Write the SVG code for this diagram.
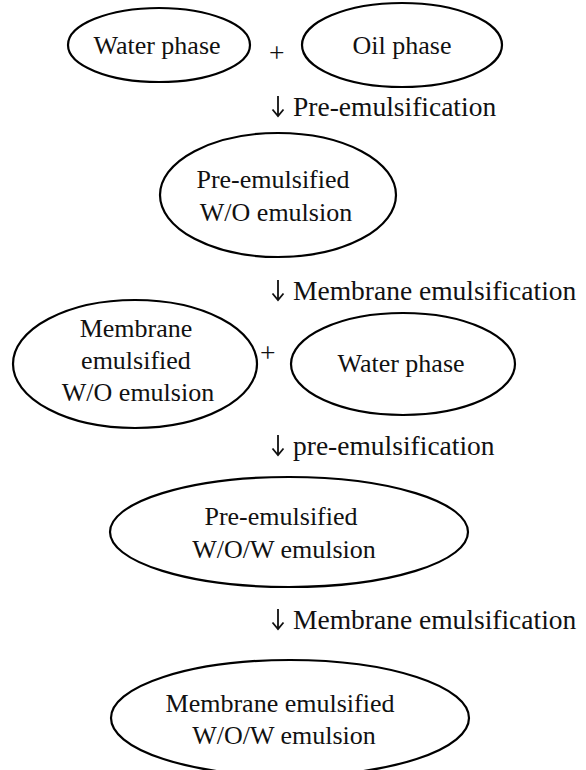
<svg xmlns="http://www.w3.org/2000/svg" width="586" height="770" viewBox="0 0 586 770">
<style>
.n{fill:none;stroke:#000;stroke-width:2.2}
.t{font-family:"Liberation Serif","Times New Roman",serif;font-size:26px;fill:#111;text-anchor:middle}
.l{font-family:"Liberation Serif","Times New Roman",serif;font-size:27.5px;fill:#111}
.a{fill:none;stroke:#111;stroke-width:1.8}
</style>
<rect width="586" height="770" fill="#fff"/>
<g id="water1"><ellipse class="n" cx="159" cy="45" rx="91" ry="37"/><text class="t" x="157" y="54">Water phase</text></g>
<g id="oil"><ellipse class="n" cx="402" cy="45" rx="100" ry="42"/><text class="t" x="402" y="54">Oil phase</text></g>
<g id="preWO"><ellipse class="n" cx="278" cy="195" rx="118" ry="62"/><text class="t" x="273" y="188">Pre-emulsified</text><text class="t" x="276" y="221">W/O emulsion</text></g>
<g id="memWO"><ellipse class="n" cx="135" cy="364" rx="122" ry="64"/><text class="t" x="136" y="337">Membrane</text><text class="t" x="136" y="369">emulsified</text><text class="t" x="138" y="401">W/O emulsion</text></g>
<g id="water2"><ellipse class="n" cx="403" cy="364" rx="112" ry="51"/><text class="t" x="401" y="372">Water phase</text></g>
<g id="preWOW"><ellipse class="n" cx="289" cy="532" rx="179" ry="55"/><text class="t" x="281" y="525">Pre-emulsified</text><text class="t" x="284" y="558">W/O/W emulsion</text></g>
<g id="memWOW"><ellipse class="n" cx="290" cy="718" rx="179" ry="58"/><text class="t" x="280" y="712">Membrane emulsified</text><text class="t" x="284" y="744">W/O/W emulsion</text></g>
<g id="connectors">
<text class="l" x="269" y="62">+</text>
<text class="l" x="260" y="362">+</text>
<path class="a" d="M278 96V116M272.5 109.5L278 116L283.5 109.5"/>
<text class="l" x="293" y="116">Pre-emulsification</text>
<path class="a" d="M278 280V300M272.5 293.5L278 300L283.5 293.5"/>
<text class="l" x="293" y="300">Membrane emulsification</text>
<path class="a" d="M278 435V455M272.5 448.5L278 455L283.5 448.5"/>
<text class="l" x="293" y="455">pre-emulsification</text>
<path class="a" d="M278 609V629M272.5 622.5L278 629L283.5 622.5"/>
<text class="l" x="293" y="629">Membrane emulsification</text>
</g>
</svg>
